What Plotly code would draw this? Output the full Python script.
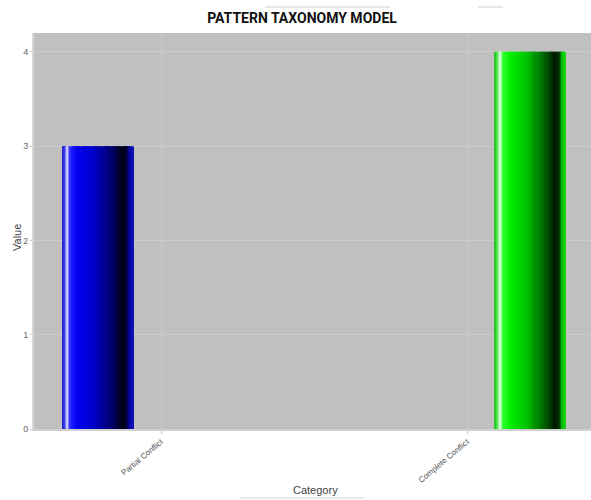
import numpy as np
import plotly.graph_objects as go

# ---- data -------------------------------------------------------------
categories = ["Partial Conflict", "Complete Conflict"]
values = [3, 4]
series_colors = ["blue", "green"]
y_ticks = [0, 1, 2, 3, 4]

# ---- bar geometry (category-axis units) -------------------------------
SLOT_OFFSET = [-0.207, 0.207]   # each series sits in its own slot of the group
BAR_WIDTH = 0.232
N_SLICES = 64                   # vertical slices used to paint the shading

# horizontal shading profiles (position across bar -> rgb)
PROFILES = {
    "blue": [
        (0.00, (26, 26, 200)), (0.04, (60, 60, 240)), (0.08, (232, 232, 255)),
        (0.12, (32, 32, 255)), (0.22, (0, 0, 240)), (0.45, (0, 0, 200)),
        (0.70, (0, 0, 110)), (0.85, (0, 0, 24)), (0.91, (0, 0, 40)),
        (0.95, (0, 0, 150)), (1.00, (20, 20, 190)),
    ],
    "green": [
        (0.00, (30, 190, 30)), (0.04, (90, 240, 90)), (0.08, (240, 255, 240)),
        (0.12, (50, 255, 50)), (0.22, (0, 240, 0)), (0.45, (0, 195, 0)),
        (0.70, (0, 100, 0)), (0.85, (0, 24, 0)), (0.91, (0, 50, 0)),
        (0.95, (0, 190, 0)), (1.00, (20, 215, 20)),
    ],
}


def shade(profile, t):
    ts = [p[0] for p in profile]
    rgb = [np.interp(t, ts, [p[1][k] for p in profile]) for k in range(3)]
    return "rgb({},{},{})".format(*[int(round(c)) for c in rgb])


fig = go.Figure()

for cat, val, col, off in zip(categories, values, series_colors, SLOT_OFFSET):
    step = BAR_WIDTH / N_SLICES
    ts = (np.arange(N_SLICES) + 0.5) / N_SLICES
    left = off - BAR_WIDTH / 2
    fig.add_trace(go.Bar(
        x=[cat] * N_SLICES,
        y=[val] * N_SLICES,
        offset=[left + i * step for i in range(N_SLICES)],
        width=[step * 1.08] * N_SLICES,
        marker=dict(color=[shade(PROFILES[col], t) for t in ts],
                    line=dict(width=0)),
        showlegend=False,
        hoverinfo="x+y",
    ))

TITLE_FONT = "Roboto, Liberation Sans, sans-serif"
BODY_FONT = "Liberation Sans, Arial, sans-serif"

fig.update_layout(
    width=591, height=500,
    margin=dict(l=34, r=0, t=33, b=71),
    paper_bgcolor="white",
    plot_bgcolor="#c0c0c0",
    barmode="overlay",
    title=dict(text="<b>PATTERN TAXONOMY MODEL</b>",
               x=302 / 591, xanchor="center",
               y=1 - 18 / 500, yanchor="middle", yref="container",
               font=dict(family=TITLE_FONT, size=14, color="#111111")),
    xaxis=dict(
        type="category",
        categoryorder="array", categoryarray=categories,
        range=[-0.415, 1.405],
        showgrid=True, gridcolor="#cbcbcb", gridwidth=1,
        showline=True, linecolor="#d0d0d0", linewidth=2,
        ticks="outside", ticklen=3, tickcolor="#c8c8c8",
        tickangle=-40,
        tickfont=dict(family=BODY_FONT, size=8, color="#555555"),
        fixedrange=True,
    ),
    yaxis=dict(
        range=[0, 4.2],
        tickvals=y_ticks,
        showgrid=True, gridcolor="#cbcbd2", gridwidth=1,
        zeroline=False,
        showline=True, linecolor="#d8d8d8", linewidth=2,
        ticks="outside", ticklen=2, tickcolor="#c8c8c8",
        tickfont=dict(family=BODY_FONT, size=9, color="#666666"),
        fixedrange=True,
    ),
    annotations=[
        dict(text="Category", xref="paper", yref="paper",
             x=(315 - 34) / 557, y=(429 - 490) / 396,
             xanchor="center", yanchor="middle", showarrow=False,
             font=dict(family=BODY_FONT, size=11, color="#444444")),
        dict(text="Value", xref="paper", yref="paper",
             x=(17 - 34) / 557, y=(429 - 238) / 396, textangle=-90,
             xanchor="center", yanchor="middle", showarrow=False,
             font=dict(family=BODY_FONT, size=11, color="#444444")),
    ],
    shapes=[
        # faint rules above the title and below the axis label
        dict(type="line", xref="paper", yref="paper",
             x0=(265 - 34) / 557, x1=(390 - 34) / 557,
             y0=(429 - 7) / 396, y1=(429 - 7) / 396,
             line=dict(color="#d0d0d8", width=1)),
        dict(type="line", xref="paper", yref="paper",
             x0=(478 - 34) / 557, x1=(503 - 34) / 557,
             y0=(429 - 7) / 396, y1=(429 - 7) / 396,
             line=dict(color="#d0d0d8", width=1)),
        dict(type="line", xref="paper", yref="paper",
             x0=(240 - 34) / 557, x1=(365 - 34) / 557,
             y0=(429 - 498) / 396, y1=(429 - 498) / 396,
             line=dict(color="#dcdce0", width=1)),
    ],
)

fig.write_html("out.html")
